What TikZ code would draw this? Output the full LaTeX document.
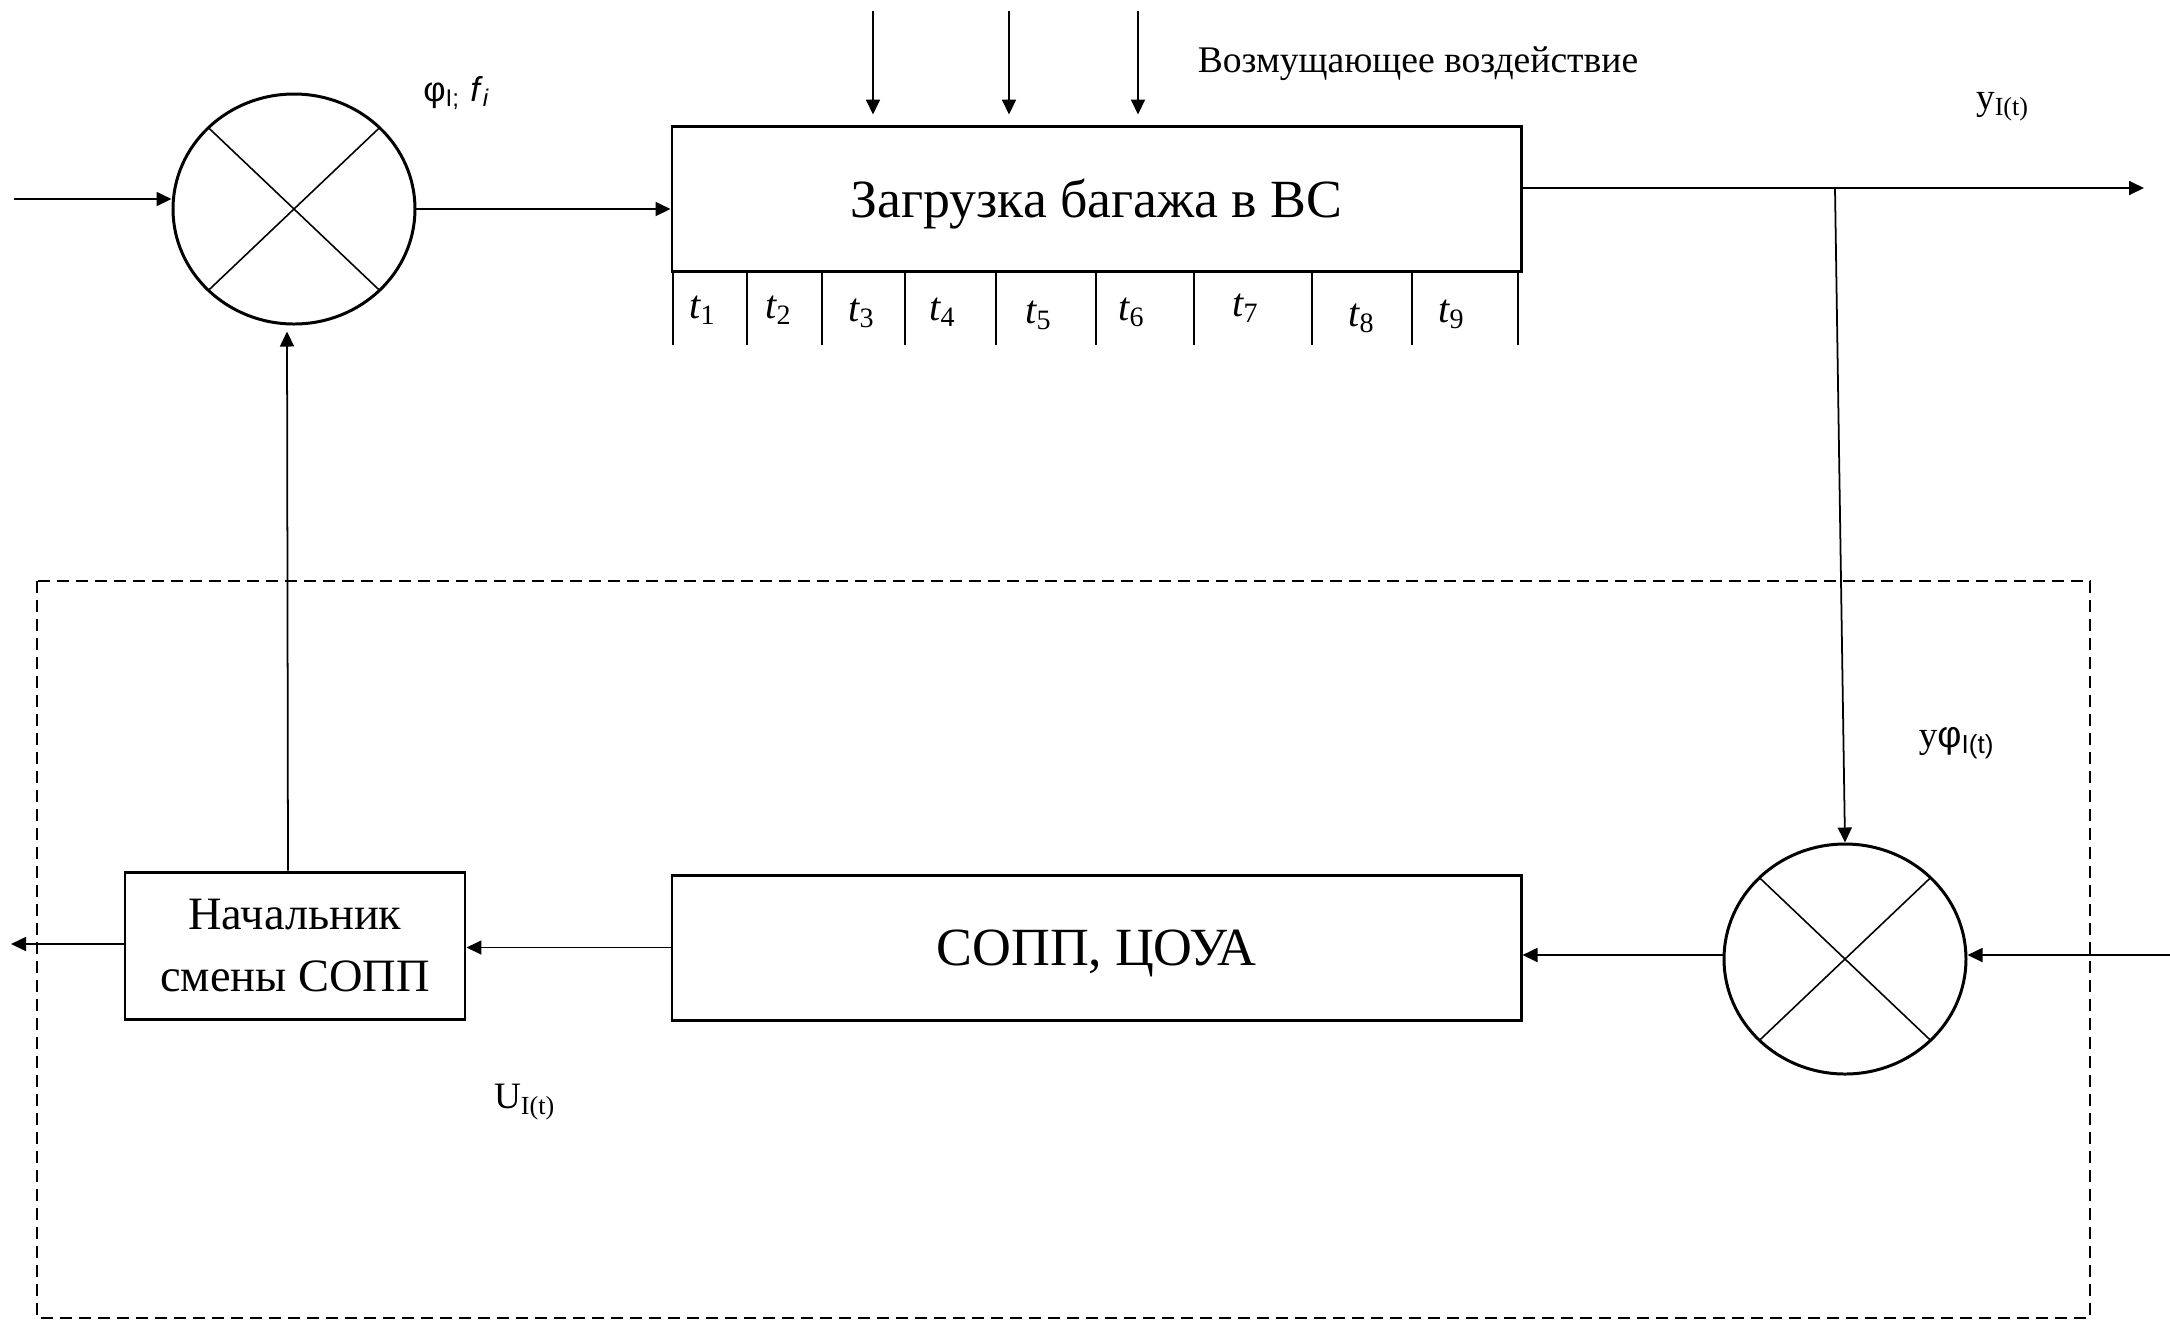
\documentclass[tikz,border=0pt]{standalone}
\usepackage{fontspec}
\setmainfont{Liberation Serif}
\newfontfamily\labsans{Liberation Sans}
\usetikzlibrary{arrows.meta,calc,shapes.geometric}

\begin{document}
\begin{tikzpicture}[x=1cm,y=-1cm,
  arr/.style={-{Triangle[length=1.5mm,width=1.4mm]},line width=0.5pt},
  blockbox/.style={draw,line width=0.85pt,minimum width=8.49cm,minimum height=1.45cm,inner sep=0pt,text depth=0pt},
  sumnode/.style={ellipse,draw,line width=0.85pt,minimum width=2.42cm,minimum height=2.30cm,inner sep=0pt,
    path picture={\draw[line width=0.45pt] (path picture bounding box.north west) -- (path picture bounding box.south east)
      (path picture bounding box.north east) -- (path picture bounding box.south west);}},
  lab/.style={font=\fontsize{10.6}{13}\selectfont,inner sep=0pt}]
\useasboundingbox (0,0) rectangle (21.70,13.21);
\draw[dash pattern=on 0.12cm off 0.07cm,line width=0.65pt] (0.37,5.81) rectangle (20.90,13.18);

\node[sumnode] (sum1) at (2.94,2.09) {};
\node[sumnode] (sum2) at (18.45,9.59) {};
\node[blockbox,font=\fontsize{15.3}{18}\selectfont] (load) at (10.965,1.985) {Загрузка багажа в ВС};
\node[blockbox,font=\fontsize{15.3}{18}\selectfont] (copp) at (10.965,9.475) {СОПП, ЦОУА};
\node[draw,line width=0.85pt,minimum width=3.40cm,minimum height=1.47cm,inner sep=0pt,align=center,
  font=\fontsize{13.2}{17.4}\selectfont] (chief) at (2.95,9.455) {Начальник\\смены СОПП};

\foreach \x in {6.73,7.47,8.22,9.05,9.96,10.96,11.94,13.12,14.12,15.18}
  \draw[line width=0.5pt] (\x,2.71) -- (\x,3.45);
\foreach \x/\y [count=\i] in {7.03/3.10,7.79/3.10,8.62/3.13,9.43/3.12,10.39/3.15,11.32/3.12,12.46/3.08,13.62/3.18,14.52/3.14}
  \node[lab,font=\fontsize{11.4}{13}\selectfont] (t\i) at (\x,\y) {\itshape t\textsubscript{\upshape\i}};

\foreach \x [count=\i] in {8.73,10.09,11.38} {
  \coordinate (d\i) at (\x,0.11);
  \draw[arr,shorten >=0.1cm] (d\i) -- (d\i |- load.north);
}
\node[font=\fontsize{10.7}{13}\selectfont] (dist) at (14.18,0.64) {Возмущающее воздействие};

\coordinate (xin) at (0.14,1.99);
\draw[arr] (xin) -- (xin -| sum1.west);
\draw[arr] (sum1.east) -- (sum1.east -| load.west);

\coordinate (yout) at (21.44,1.88);
\coordinate (br) at (18.35,1.88);
\draw[arr] (yout -| load.east) -- (yout);
\draw[arr] (br) -- (sum2.north);

\coordinate (rin) at (21.70,9.55);
\draw[arr] (rin) -- (rin -| sum2.east);
\draw[arr] (sum2.west |- rin) -- (rin -| copp.east);
\draw[arr] (copp.west) -- (copp.west -| chief.east);
\coordinate (cout) at (0.11,9.44);
\draw[arr] (chief.west |- cout) -- (cout);
\draw[arr,shorten >=0.06cm] ([xshift=-0.07cm]chief.north) -- ([xshift=-0.07cm]sum1.south);

\node[lab,font=\labsans\fontsize{9.8}{13}\selectfont] (phi) at (4.57,0.93) {φ\textsubscript{I;} \textit{f}\textsubscript{\textit{i}}};
\node[lab] (yI) at (20.03,1.07) {y\textsubscript{I(t)}};
\node[lab] (yphi) at (19.57,7.43) {y{\labsans φ\textsubscript{I(t)}}};
\node[lab] (uI) at (5.25,11.02) {U\textsubscript{I(t)}};
\end{tikzpicture}
\end{document}
